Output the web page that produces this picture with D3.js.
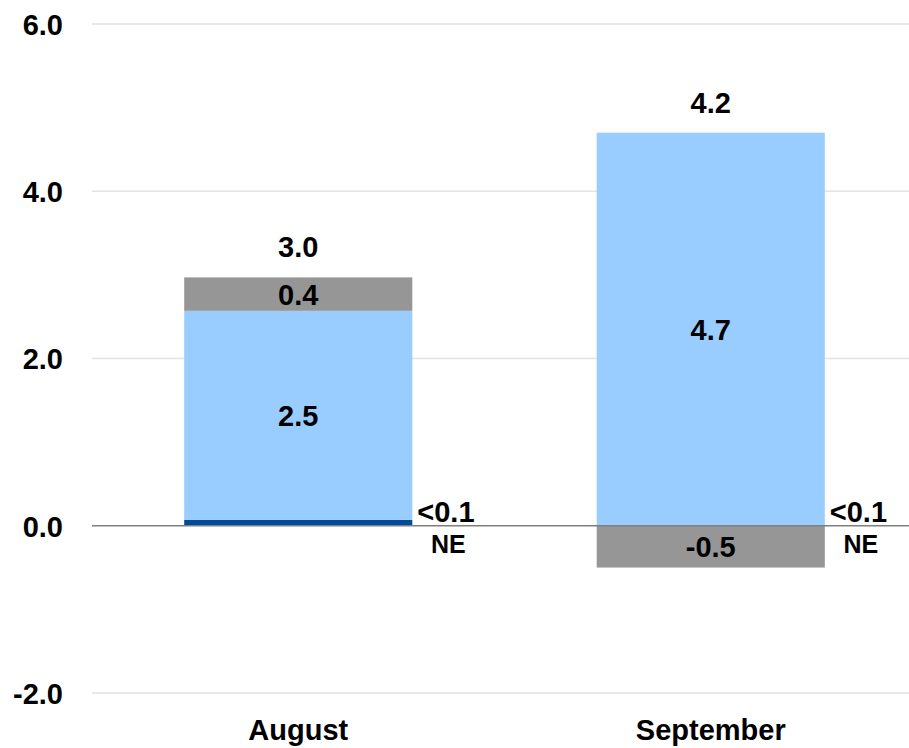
<!DOCTYPE html>
<html><head><meta charset="utf-8">
<script src="https://cdn.jsdelivr.net/npm/d3@7"></script>
<style>body{margin:0;background:#fff;}svg{display:block;font-family:"Liberation Sans",Arial,sans-serif;font-weight:bold;}</style>
</head><body><div id="chart"></div>
<script>
const categories = ["August", "September"];
const seriesKeys = ["dark", "light", "gray"];
const darkValues = [0.07, 0.0];
const lightValues = [2.5, 4.7];
const grayValues = [0.4, -0.5];
const segmentLabels = { light: ["2.5", "4.7"], gray: ["0.4", "-0.5"] };
const totalLabels = ["3.0", "4.2"];
const smallLabels = ["<0.1", "<0.1"];
const noteLabels = ["NE", "NE"];
const yTicks = [-2, 0, 2, 4, 6];
const colors = { dark: "#004C99", light: "#99CCFF", gray: "#969696" };

const W = 909, H = 748;
const FS = 29;
const svg = d3.select("#chart").append("svg").attr("width", W).attr("height", H);

const y = d3.scaleLinear().domain([-2, 6]).range([693, 24]);
const x = d3.scaleBand().domain(categories).range([92, 917]).paddingInner(0.447).paddingOuter(0.2235);

// gridlines
svg.append("g").selectAll("line").data(yTicks.filter(t => t !== 0)).join("line")
  .attr("x1", 92).attr("x2", W).attr("y1", d => y(d)).attr("y2", d => y(d))
  .attr("stroke", "#e2e2e2").attr("stroke-width", 1.5);

// y axis labels
const fmt = v => d3.format(".1f")(v).replace("\u2212", "-");
const yAxis = d3.axisLeft(y).tickValues(yTicks).tickFormat(fmt).tickSize(0).tickPadding(0);
const ya = svg.append("g").attr("transform", "translate(63,0)").call(yAxis);
ya.select(".domain").remove();
ya.selectAll("text").attr("font-size", FS).attr("font-weight", "bold").attr("fill", "#000")
  .attr("dy", "0.36em")
  .attr("font-family", "'Liberation Sans',Arial,sans-serif");

// data
const table = categories.map((c, i) => ({ cat: c, dark: darkValues[i], light: lightValues[i], gray: grayValues[i] }));
const stack = d3.stack().keys(seriesKeys).offset(d3.stackOffsetDiverging);
const layers = stack(table);

svg.append("g").selectAll("g").data(layers).join("g")
  .attr("fill", d => colors[d.key])
  .selectAll("rect").data(d => d).join("rect")
  .attr("x", d => x(d.data.cat)).attr("width", x.bandwidth())
  .attr("y", d => y(Math.max(d[0], d[1])))
  .attr("height", d => Math.abs(y(d[0]) - y(d[1])));

// zero line
svg.append("line").attr("x1", 92).attr("x2", W).attr("y1", y(0)).attr("y2", y(0))
  .attr("stroke", "#7f7f7f").attr("stroke-width", 1.5);

// segment labels
layers.filter(l => segmentLabels[l.key]).forEach(l => {
  svg.append("g").selectAll("text").data(l).join("text")
    .attr("x", d => x(d.data.cat) + x.bandwidth() / 2)
    .attr("y", d => (y(d[0]) + y(d[1])) / 2)
    .attr("dy", "0.36em").attr("text-anchor", "middle").attr("font-size", FS)
    .text((d, i) => segmentLabels[l.key][i]);
});

// totals
const tops = table.map(d => Math.max(0, d.dark) + Math.max(0, d.light) + Math.max(0, d.gray));
svg.append("g").selectAll("text").data(categories).join("text")
  .attr("x", d => x(d) + x.bandwidth() / 2)
  .attr("y", (d, i) => y(tops[i]) - 20)
  .attr("text-anchor", "middle").attr("font-size", FS)
  .text((d, i) => totalLabels[i]);

// small labels
svg.append("g").selectAll("text").data(categories).join("text")
  .attr("x", d => x(d) + x.bandwidth() + 5)
  .attr("y", y(0) - 4)
  .attr("font-size", FS)
  .text((d, i) => smallLabels[i]);
svg.append("g").selectAll("text").data(categories).join("text")
  .attr("x", d => x(d) + x.bandwidth() + 36)
  .attr("y", y(0) + 27)
  .attr("text-anchor", "middle").attr("font-size", 25)
  .text((d, i) => noteLabels[i]);

// x axis labels
const xAxis = d3.axisBottom(x).tickSize(0).tickPadding(0);
const xa = svg.append("g").attr("transform", "translate(0,740)").call(xAxis);
xa.select(".domain").remove();
xa.selectAll("text").attr("font-size", FS).attr("font-weight", "bold").attr("fill", "#000")
  .attr("dy", 0)
  .attr("font-family", "'Liberation Sans',Arial,sans-serif");
</script></body></html>
